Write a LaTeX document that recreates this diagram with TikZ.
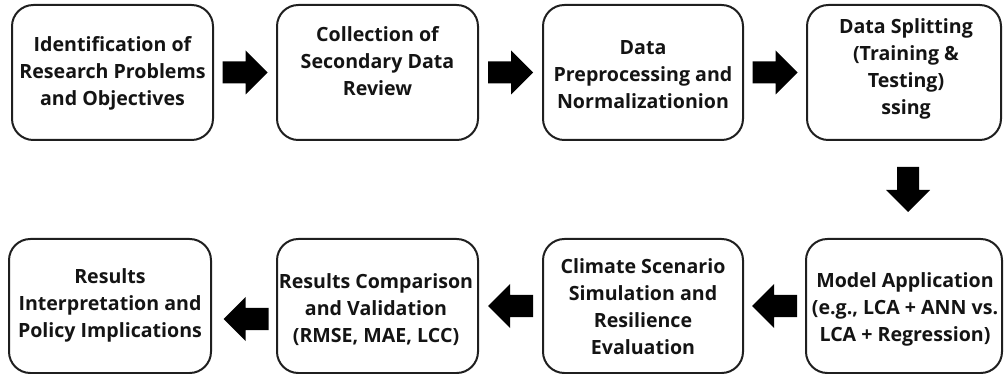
\documentclass[tikz,border=0pt]{standalone}
\usepackage{fontspec}
\setmainfont{Open Sans}
\usetikzlibrary{calc}
\tikzset{
  stepbox/.style={draw=black!88, line width=1.5pt, rounded corners=16pt, inner sep=0pt},
  steptext/.style={align=center, font=\fontsize{14.7pt}{20.3pt}\selectfont\bfseries, inner sep=0pt, text=black!92},
  blockarrow/.style={fill=black},
}
\newcommand{\myarrow}[2]{%
  \fill[blockarrow, shift={#1}, rotate=#2]
    (-22.5,-11) -- (0.5,-11) -- (0.5,-22) -- (22.5,0) -- (0.5,22) -- (0.5,11) -- (-22.5,11) -- cycle;}
\begin{document}
\begin{tikzpicture}[x=0.75pt,y=-0.75pt]
\useasboundingbox (0,0) rectangle (1004,374);
% top row boxes
\node[stepbox, minimum width=201*0.75pt, minimum height=135*0.75pt] (b1) at (112.5,72.5) {};
\node[stepbox, minimum width=201*0.75pt, minimum height=135*0.75pt] (b2) at (377.5,72.5) {};
\node[stepbox, minimum width=200*0.75pt, minimum height=135*0.75pt] (b3) at (643,72.5) {};
\node[stepbox, minimum width=194*0.75pt, minimum height=135*0.75pt] (b4) at (904,72.5) {};
% bottom row boxes
\node[stepbox, minimum width=202*0.75pt, minimum height=134*0.75pt] (b5) at (110,306) {};
\node[stepbox, minimum width=201*0.75pt, minimum height=134*0.75pt] (b6) at (377.5,306) {};
\node[stepbox, minimum width=200*0.75pt, minimum height=134*0.75pt] (b7) at (643,306) {};
\node[stepbox, minimum width=196*0.75pt, minimum height=134*0.75pt] (b8) at (904,306) {};
% texts
\node[steptext] (t1) at (112.5,73) {Identification of\\Research Problems\\and Objectives};
\node[steptext] (t2) at (377.5,61) {Collection of\\Secondary Data\\Review};
\node[steptext] (t3) at (643,75) {Data\\Preprocessing and\\Normalizationion};
\node[steptext] (t4) at (906,69) {Data Splitting\\(Training \&\\Testing)\\ssing};
\node[steptext] (t5) at (110,305) {Results\\Interpretation and\\Policy Implications};
\node[steptext] (t6) at (376,310) {Results Comparison\\and Validation\\(RMSE, MAE, LCC)};
\node[steptext] (t7) at (643,307) {Climate Scenario\\Simulation and\\Resilience\\Evaluation};
\node[steptext] (t8) at (905,309) {Model Application\\(e.g., LCA + ANN vs.\\LCA + Regression)};
% arrows
\myarrow{($(b1.east)!0.5!(b2.west)+(0,0)$)}{0}
\myarrow{($(b2.east)!0.5!(b3.west)+(0,0)$)}{0}
\myarrow{($(b3.east)!0.5!(b4.west)+(0,0)$)}{0}
\myarrow{($(b4.south)!0.5!(b8.north)+(4,0)$)}{-90}
\myarrow{($(b8.west)!0.5!(b7.east)+(0,0)$)}{180}
\myarrow{($(b7.west)!0.5!(b6.east)+(0,0)$)}{180}
\myarrow{($(b6.west)!0.5!(b5.east)+(2,13)$)}{180}
\end{tikzpicture}
\end{document}
